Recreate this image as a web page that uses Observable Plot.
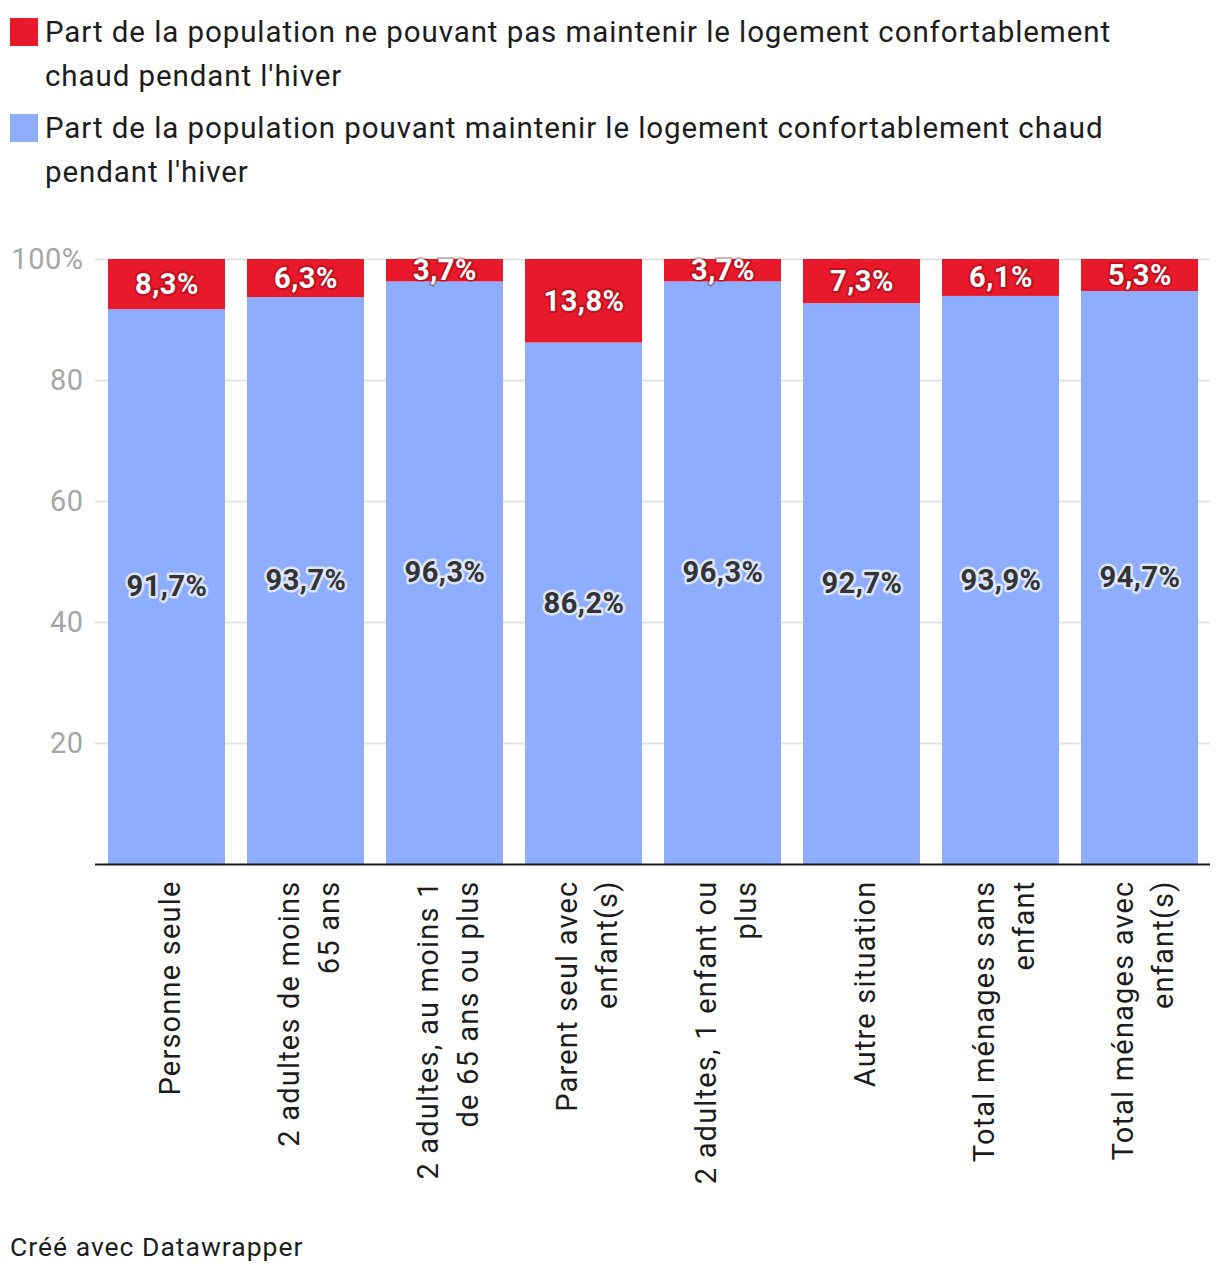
<!DOCTYPE html>
<html>
<head>
<meta charset="utf-8">
<script src="https://cdn.jsdelivr.net/npm/d3@7"></script>
<script src="https://cdn.jsdelivr.net/npm/@observablehq/plot@0.6"></script>
<style>
  html, body { margin: 0; padding: 0; background: #fff; }
  #wrap { position: relative; width: 1220px; height: 1274px; font-family: Roboto, "Noto Sans", sans-serif; color: #1d1d1d; }
  .lg { position: absolute; left: 45px; font-size: 29.5px; letter-spacing: 0.92px; line-height: 44px; white-space: nowrap; }
  .sw { position: absolute; left: 10px; width: 28px; height: 28px; }
  #chart { position: absolute; left: 0; top: 200px; }
  #caption { position: absolute; left: 10px; top: 1232px; font-size: 26.5px; letter-spacing: 1px; line-height: 30px; }
  #chart svg text { letter-spacing: 0.5px; }
  #chart svg g[aria-label="x-axis tick label"] text { letter-spacing: 1.2px; }
</style>
</head>
<body>
<div id="wrap">
  <div id="legend"></div>
  <div id="chart"></div>
  <div id="caption">Créé avec Datawrapper</div>
</div>
<script>
const categories = [
  "Personne seule",
  "2 adultes de moins 65 ans",
  "2 adultes, au moins 1 de 65 ans ou plus",
  "Parent seul avec enfant(s)",
  "2 adultes, 1 enfant ou plus",
  "Autre situation",
  "Total ménages sans enfant",
  "Total ménages avec enfant(s)"
];
const tickLabels = [
  "Personne seule",
  "2 adultes de moins\n65 ans",
  "2 adultes, au moins 1\nde 65 ans ou plus",
  "Parent seul avec\nenfant(s)",
  "2 adultes, 1 enfant ou\nplus",
  "Autre situation",
  "Total ménages sans\nenfant",
  "Total ménages avec\nenfant(s)"
];
const seriesNames = [
  "Part de la population ne pouvant pas maintenir le logement confortablement chaud pendant l'hiver",
  "Part de la population pouvant maintenir le logement confortablement chaud pendant l'hiver"
];
const legendLines = [
  ["Part de la population ne pouvant pas maintenir le logement confortablement", "chaud pendant l'hiver"],
  ["Part de la population pouvant maintenir le logement confortablement chaud", "pendant l'hiver"]
];
const notWarm = [8.3, 6.3, 3.7, 13.8, 3.7, 7.3, 6.1, 5.3];
const warm = [91.7, 93.7, 96.3, 86.2, 96.3, 92.7, 93.9, 94.7];
const colors = ["#e8192b", "#8fadfd"];
const yTicks = [20, 40, 60, 80, 100];

// legend
const legend = document.getElementById("legend");
legendLines.forEach((lines, i) => {
  const sw = document.createElement("div");
  sw.className = "sw";
  sw.style.top = (18 + i * 96) + "px";
  sw.style.background = colors[i];
  legend.appendChild(sw);
  const t = document.createElement("div");
  t.className = "lg";
  t.style.top = (10 + i * 96) + "px";
  t.innerHTML = lines.map(l => l.replace(/&/g, "&amp;")).join("<br>");
  legend.appendChild(t);
});

const rows = [];
categories.forEach((c, i) => {
  rows.push({cat: c, serie: seriesNames[1], value: warm[i]});
  rows.push({cat: c, serie: seriesNames[0], value: notWarm[i]});
});
const fmt = v => v.toFixed(1).replace(".", ",") + "%";
const order = [seriesNames[1], seriesNames[0]];
const labelMap = new Map(categories.map((c, i) => [c, tickLabels[i]]));

const chart = Plot.plot({
  width: 1220,
  height: 1000,
  marginTop: 59,
  marginBottom: 336,
  marginLeft: 95,
  marginRight: 10,
  style: {fontFamily: "Roboto, 'Noto Sans', sans-serif", fontSize: "29px", color: "#1d1d1d", background: "transparent"},
  x: {domain: categories, paddingInner: 0.158, paddingOuter: 0, insetLeft: 12, insetRight: 11, label: null},
  y: {domain: [0, 100], label: null},
  color: {domain: seriesNames, range: colors},
  marks: [
    Plot.gridY(yTicks, {stroke: "#e3e3e3", strokeOpacity: 1, strokeWidth: 2}),
    Plot.axisY(yTicks, {tickSize: 0, tickPadding: 12, fontSize: 29, fill: "#a6a6a6",
      tickFormat: d => d === 100 ? "100%" : String(d), label: null}),
    Plot.barY(rows, {x: "cat", y: "value", fill: "serie", z: "serie", order}),
    Plot.text(rows, Plot.stackY({
      x: "cat", y: "value", z: "serie", order,
      text: d => d.serie === seriesNames[1] ? fmt(d.value) : "",
      fill: "#333", stroke: "white", strokeWidth: 5, strokeOpacity: 0.7, paintOrder: "stroke",
      fontWeight: "bold", fontSize: 29
    })),
    Plot.text(rows, Plot.stackY({
      x: "cat", y: "value", z: "serie", order,
      text: d => d.serie === seriesNames[0] ? fmt(d.value) : "",
      fill: "white", stroke: "#5a0008", strokeWidth: 4, strokeOpacity: 0.3, paintOrder: "stroke",
      fontWeight: "bold", fontSize: 29
    })),
    Plot.ruleY([0], {stroke: "#1d1d1d", strokeWidth: 2}),
    Plot.axisX({tickSize: 0, tickPadding: 16, tickRotate: -90, fontSize: 29, lineHeight: 1.38,
      tickFormat: d => labelMap.get(d), label: null})
  ]
});
document.getElementById("chart").appendChild(chart);
</script>
</body>
</html>
